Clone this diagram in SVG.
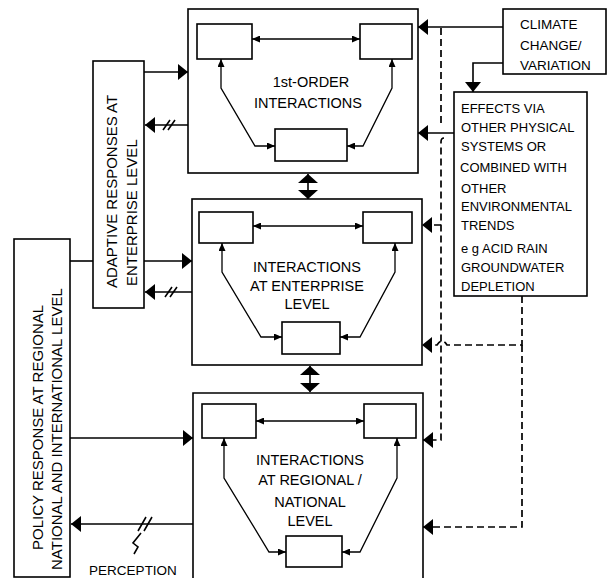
<svg xmlns="http://www.w3.org/2000/svg" width="610" height="578" viewBox="0 0 610 578">
<style>
  .box { fill: #fff; stroke: #000; stroke-width: 1.6; }
  .ibox { fill: #fff; stroke: #000; stroke-width: 1.6; }
  .ln { fill: none; stroke: #000; stroke-width: 1.6; }
  .iln { fill: none; stroke: #000; stroke-width: 1.3; }
  .dash { fill: none; stroke: #000; stroke-width: 1.7; stroke-dasharray: 7,4; }
  .t { font-family: "Liberation Sans", Arial, sans-serif; font-size: 14.5px; fill: #000; }
  .tc { text-anchor: middle; }
  .ts { font-family: "Liberation Sans", Arial, sans-serif; font-size: 13px; fill: #000; }
  .tr { font-family: "Liberation Sans", Arial, sans-serif; font-size: 15px; fill: #000; }
</style>
<defs>
  <marker id="big" viewBox="0 0 10 16" refX="10" refY="8" markerWidth="10" markerHeight="16" markerUnits="userSpaceOnUse" orient="auto">
    <path d="M0,0 L10,8 L0,16 z" fill="#000"/>
  </marker>
  <marker id="wide" viewBox="0 0 9 20" refX="9" refY="10" markerWidth="9" markerHeight="20" markerUnits="userSpaceOnUse" orient="auto-start-reverse">
    <path d="M0,0 L9,10 L0,20 z" fill="#000"/>
  </marker>
  <marker id="sm" viewBox="0 0 8 7" refX="8" refY="3.5" markerWidth="8" markerHeight="7" markerUnits="userSpaceOnUse" orient="auto-start-reverse">
    <path d="M0,0 L8,3.5 L0,7 z" fill="#000"/>
  </marker>
</defs>

<g id="level1">
  <rect class="box" x="188" y="9" width="230" height="164"/>
  <rect class="ibox" x="197" y="24" width="55" height="35"/>
  <rect class="ibox" x="360" y="24" width="52" height="35"/>
  <rect class="ibox" x="275" y="129" width="72" height="32"/>
  <path class="iln" d="M252,39 H360" marker-start="url(#sm)" marker-end="url(#sm)"/>
  <path class="iln" d="M221,59 V88 L255,146 H275" marker-start="url(#sm)" marker-end="url(#sm)"/>
  <path class="iln" d="M392,59 V88 L363,146 H347" marker-start="url(#sm)" marker-end="url(#sm)"/>
  <text class="t tc" x="311" y="87">1st-ORDER</text>
  <text class="t tc" x="308" y="108">INTERACTIONS</text>
</g>

<g id="level2">
  <rect class="box" x="192" y="199" width="230" height="166"/>
  <rect class="ibox" x="199" y="212" width="54" height="31"/>
  <rect class="ibox" x="363" y="212" width="49" height="31"/>
  <rect class="ibox" x="282" y="322" width="58" height="32"/>
  <path class="iln" d="M253,226 H363" marker-start="url(#sm)" marker-end="url(#sm)"/>
  <path class="iln" d="M222,243 V272 L261,337 H282" marker-start="url(#sm)" marker-end="url(#sm)"/>
  <path class="iln" d="M395,243 V272 L360,337 H340" marker-start="url(#sm)" marker-end="url(#sm)"/>
  <text class="t tc" x="307" y="272">INTERACTIONS</text>
  <text class="t tc" x="307" y="291">AT ENTERPRISE</text>
  <text class="t tc" x="307" y="309">LEVEL</text>
</g>

<g id="level3">
  <path class="box" d="M193,578 V393 H423 V578"/>
  <rect class="ibox" x="202" y="404" width="54" height="34"/>
  <rect class="ibox" x="364" y="404" width="52" height="34"/>
  <rect class="ibox" x="286" y="536" width="56" height="31"/>
  <path class="iln" d="M256,421 H364" marker-start="url(#sm)" marker-end="url(#sm)"/>
  <path class="iln" d="M224,438 V478 L269,552 H286" marker-start="url(#sm)" marker-end="url(#sm)"/>
  <path class="iln" d="M397,438 V478 L360,552 H342" marker-start="url(#sm)" marker-end="url(#sm)"/>
  <text class="t tc" x="310" y="465">INTERACTIONS</text>
  <text class="t tc" x="310" y="485">AT REGIONAL /</text>
  <text class="t tc" x="310" y="507">NATIONAL</text>
  <text class="t tc" x="310" y="526">LEVEL</text>
</g>

<g id="adaptive">
  <rect class="box" x="93" y="61" width="51" height="247"/>
  <text class="tr" transform="translate(117,288) rotate(-90)">ADAPTIVE RESPONSES AT</text>
  <text class="tr" transform="translate(137,286) rotate(-90)">ENTERPRISE LEVEL</text>
</g>

<g id="policy">
  <rect class="box" x="14" y="239" width="56" height="338"/>
  <text class="tr" transform="translate(43,550) rotate(-90)">POLICY RESPONSE AT REGIONAL</text>
  <text class="tr" transform="translate(62,570) rotate(-90)">NATIONAL AND INTERNATIONAL LEVEL</text>
</g>

<g id="climate">
  <rect class="box" x="503" y="9" width="103" height="65"/>
  <text class="ts" x="520" y="29" style="font-size:13.5px">CLIMATE</text>
  <text class="ts" x="520" y="50" style="font-size:13.5px">CHANGE/</text>
  <text class="ts" x="520" y="70" style="font-size:13.5px">VARIATION</text>
</g>

<g id="effects">
  <rect class="box" x="454" y="92" width="133" height="204"/>
  <text class="ts" x="461" y="113">EFFECTS VIA</text>
  <text class="ts" x="461" y="132">OTHER PHYSICAL</text>
  <text class="ts" x="461" y="151">SYSTEMS OR</text>
  <text class="ts" x="460" y="172">COMBINED WITH</text>
  <text class="ts" x="461" y="193">OTHER</text>
  <text class="ts" x="461" y="211">ENVIRONMENTAL</text>
  <text class="ts" x="461" y="230">TRENDS</text>
  <text class="ts" x="461" y="253">e g  ACID RAIN</text>
  <text class="ts" x="461" y="272">GROUNDWATER</text>
  <text class="ts" x="461" y="291">DEPLETION</text>
</g>

<g id="perception-label">
  <text class="ts" x="133" y="575" text-anchor="middle" style="font-size:13.5px">PERCEPTION</text>
</g>

<g id="connectors">
  <!-- between levels -->
  <path class="ln" d="M308,174 V199" stroke-width="2" marker-start="url(#wide)" marker-end="url(#wide)"/>
  <path class="ln" d="M310,366 V392" stroke-width="2" marker-start="url(#wide)" marker-end="url(#wide)"/>
  <!-- adaptive -->
  <path class="ln" d="M144,72 H188" marker-end="url(#big)"/>
  <path class="ln" d="M188,125 H145" marker-end="url(#big)"/>
  <path class="ln" d="M163,130 L170,120 M168,130 L175,120"/>
  <path class="ln" d="M70,261 H93"/>
  <path class="ln" d="M144,261 H192" marker-end="url(#big)"/>
  <path class="ln" d="M192,292 H145" marker-end="url(#big)"/>
  <path class="ln" d="M165,297 L172,287 M170,297 L177,287"/>
  <!-- policy -->
  <path class="ln" d="M70,438 H193" marker-end="url(#big)"/>
  <path class="ln" d="M193,524 H71" marker-end="url(#big)"/>
  <path class="ln" d="M138,531 L146,517 M144,531 L152,517"/>
  <path class="ln" d="M141,533 L133,543 L138,547 L134,554"/>
  <!-- climate -->
  <path class="ln" d="M503,27 H418" marker-end="url(#big)"/>
  <path class="ln" d="M503,63 H473 V92" marker-end="url(#big)"/>
  <!-- effects -->
  <path class="ln" d="M454,133 H418" marker-end="url(#big)"/>
  <!-- dashed: climate direct -->
  <path class="dash" d="M441,28 V127"/>
  <path class="dash" d="M444,138 Q441,138 441,142 V440 H423" marker-end="url(#big)"/>
  <path class="dash" d="M441,225 H422" marker-end="url(#big)"/>
  <!-- dashed: effects -->
  <path class="dash" d="M522,296 V345 H447 Q442,337 437,345 H422" marker-end="url(#big)"/>
  <path class="dash" d="M522,345 V527 H423" marker-end="url(#big)"/>
</g>
</svg>
